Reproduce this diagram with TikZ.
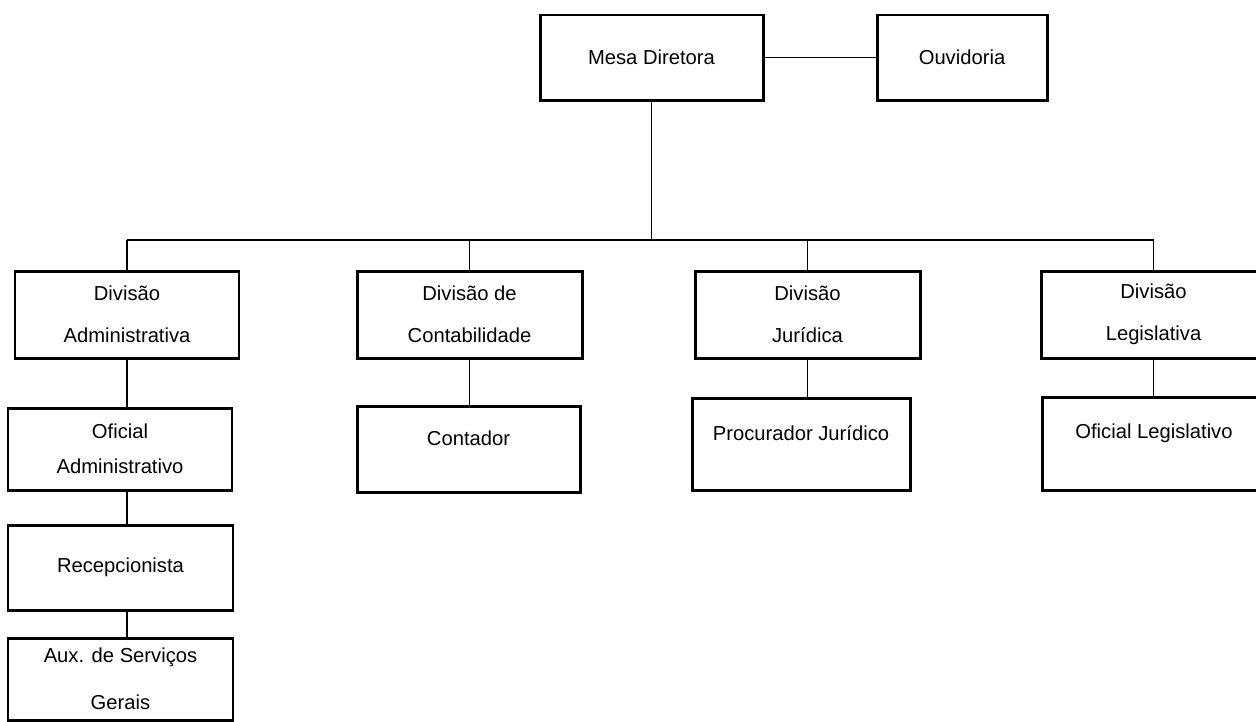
\documentclass[tikz,border=0pt]{standalone}
\usepackage{fontspec}
\setmainfont{Liberation Sans}
\usepackage{tikz}
\usetikzlibrary{calc}

\begin{document}
\begin{tikzpicture}[x=0.02cm,y=-0.02cm,
    box/.style={draw,line width=1.7pt,align=center,inner sep=2pt,
      font=\fontsize{11.5}{24}\selectfont},
    link/.style={draw,line width=0.9pt}]
  \useasboundingbox (0,0) rectangle (1256,721);
  \clip (0,0) rectangle (1256,721);
  \foreach \nm/\cx/\cy/\w/\h/\txt in {
      mesa/651.5/57.5/223/85/{Mesa Diretora},
      ouvid/962/57.5/170/85/{Ouvidoria},
      divadm/127/314.5/224/87/{Divisão\\Administrativa},
      divcont/469.5/314.5/225/87/{Divisão de\\Contabilidade},
      divjur/807.5/314.5/225/87/{Divisão\\Jurídica},
      divleg/1153.5/314.5/225/87/{Divisão\\Legislativa},
      ofadm/120/449/224/82/{Oficial\\[-4pt]Administrativo},
      contador/468.5/449/223/86/{Contador\\[-12pt]\mbox{}},
      procur/801/444/218/92/{Procurador Jurídico\\[-12pt]\mbox{}},
      ofleg/1154/443.5/224/93/{Oficial Legislativo\\[-10pt]\mbox{}},
      recep/120.5/567.5/225/85/{Recepcionista},
      aux/120.5/679/225/82/{Aux. de Serviços\\[3pt]Gerais}} {
    \node[box,minimum width=\w*0.02cm,minimum height=\h*0.02cm] (\nm) at (\cx,\cy) {\txt};
  }
  \coordinate (bus) at (0,240);
  \draw[link] (mesa) -- (ouvid);
  \draw[link] (mesa.south) -- (mesa.south |- bus);
  \draw[link] (divadm.north |- bus) -- (divleg.north |- bus);
  \foreach \d in {divadm,divcont,divjur,divleg}
    \draw[link] (\d.north) -- (\d.north |- bus);
  \draw[link] (divadm.south) -- (divadm.south |- ofadm.north);
  \draw[link] (divcont.south) -- (divcont.south |- contador.north);
  \draw[link] (divjur.south) -- (divjur.south |- procur.north);
  \draw[link] (divleg.south) -- (divleg.south |- ofleg.north);
  \draw[link] (ofadm.south -| divadm.south) -- (recep.north -| divadm.south);
  \draw[link] (recep.south -| divadm.south) -- (aux.north -| divadm.south);
\end{tikzpicture}
\end{document}
